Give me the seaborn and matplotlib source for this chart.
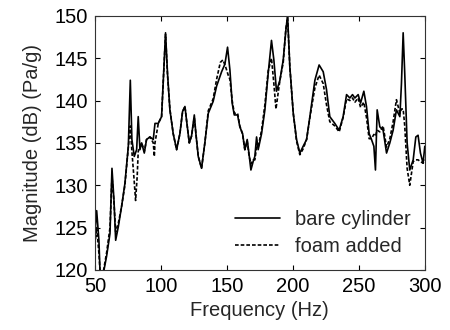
import matplotlib
matplotlib.use("Agg")
import matplotlib.pyplot as plt
import seaborn as sns
import pandas as pd

bare_freq = [50, 51.3, 53, 53.8, 56, 58.8, 61.4, 62.9, 64.4, 65.7, 67.7, 70.2, 72.7, 75.3, 76.8, 78, 79.8,
             81.6, 82.8, 84.1, 85.4, 87.4, 89.1, 91.7, 94.2, 95.5, 98, 100.5, 102.3, 103.5, 105, 106.8,
             109.3, 111.9, 114.4, 116.4, 118.2, 119.4, 121.5, 123.2, 125.3, 126.5, 128.3, 130.8, 133.3,
             135.9, 139.6, 142.2, 146, 148.5, 150.5, 152.3, 154, 155.6, 158.1, 159.8, 161.9, 163.6, 165.4,
             166.7, 168.2, 169.9, 171.2, 172.5, 173.7, 176.3, 178.8, 181.3, 183.8, 185.6, 187.6, 190.2,
             192.7, 194.7, 196, 197.7, 200.3, 202.8, 205.3, 207.8, 210.4, 212.9, 216.7, 219.9, 223, 225.5,
             228, 231.8, 235.1, 238.1, 240.7, 243.2, 245.2, 247, 249.5, 251.3, 253.8, 255.8, 257.8, 259.6,
             261.4, 262.6, 263.9, 265.9, 268.4, 271, 273.5, 276, 278.5, 281.1, 282.3, 283.6, 284.8, 286.6,
             288.6, 291.2, 293.2, 294.9, 296.7, 298.7, 300]
bare_db = [124.3, 127, 123.5, 120, 119.3, 121.6, 124.3, 132, 128.3, 123.5, 125.1, 127.5, 130.2, 134.6, 142.4,
           135.4, 133.4, 134.2, 138.1, 134.2, 135, 133.8, 135.4, 135.7, 135.4, 137.3, 137.3, 138.1, 144, 148,
           143.2, 138.9, 136.1, 134.2, 136.1, 138.7, 139.3, 137.7, 135, 135.8, 138.3, 136.1, 133.4, 132, 135,
           138.5, 139.9, 141.7, 143.4, 144.3, 146.3, 143.6, 139.7, 138.3, 138.3, 136.9, 136.1, 134.2, 135.4,
           133.8, 131.8, 132.8, 133.4, 135.7, 134.2, 136.1, 138.9, 143.2, 147.1, 144.8, 141.1, 142.4, 144.8,
           148.3, 150, 144, 138.5, 135.4, 133.8, 134.6, 135.4, 138.1, 142.4, 144.2, 143.4, 141.3, 138.1,
           137.3, 136.5, 138.1, 140.7, 140.3, 140.7, 140.3, 140.7, 139.7, 141.1, 139.3, 136.1, 135.4, 134.6,
           131.8, 138.9, 136.9, 136.5, 133.8, 135, 136.5, 138.9, 138.1, 142, 148, 143.2, 135, 131.8, 133,
           135.7, 135.9, 133.8, 132.6, 134.6]

foam_freq = [50, 51.3, 53, 53.8, 56, 58.8, 61.4, 62.9, 64.4, 65.7, 67.7, 70.2, 72.7, 75.3, 76.8, 78, 79.5,
             80.8, 82, 82.8, 84.1, 85.4, 87.4, 89.1, 91.7, 94.2, 95, 95.5, 98, 100.5, 102.3, 103.5, 105,
             106.8, 109.3, 111.9, 114.4, 116.4, 118.2, 119.4, 121.5, 123.2, 125.3, 126.5, 128.3, 130.8,
             133.3, 135.9, 139.6, 142.2, 145, 147, 149, 151, 152.3, 154, 155.6, 158.1, 159.8, 161.9, 163.6,
             165.4, 166.7, 168.2, 169.9, 171.2, 172.5, 173.7, 176.3, 178.8, 181.3, 183.8, 185.6, 187.2,
             188.5, 190.2, 192.7, 194.7, 196, 197.7, 200.3, 202.8, 205.3, 207.8, 210.4, 212.9, 216.7,
             219.9, 223, 225.5, 228, 231.8, 235.1, 238.1, 240.7, 243.2, 245.2, 247, 249.5, 251.3, 253.8,
             255.8, 257.8, 259.6, 261.4, 262.6, 263.9, 265.9, 268.4, 271, 273.5, 276, 278.5, 281.1, 282.3,
             283.6, 284.8, 286.6, 288.6, 291.2, 293.2, 294.9, 296.7, 298.7, 300]
foam_db = [123, 125, 122, 120, 119.5, 122, 125, 131, 128, 124.5, 125.5, 127.5, 130, 134.5, 137, 134, 131,
           128.2, 131, 134, 134.5, 135, 134, 135.4, 135.7, 135, 133.4, 135, 137.3, 138.1, 144, 147.8, 143,
           139, 136.1, 134.2, 136.1, 138.7, 139.3, 137.7, 135, 135.8, 138, 136.1, 133.4, 132, 135, 138.8,
           140.2, 142.5, 144.5, 144.8, 144, 143, 142.5, 140, 138.5, 138.5, 137, 136, 134.2, 135.2, 133.6,
           132.5, 133, 133, 134.5, 134.5, 136.5, 139.5, 143.5, 145, 142, 139, 140.5, 142.4, 144.5, 148.5,
           149.8, 144, 138.5, 135.2, 133.6, 134.3, 135.4, 138, 141.5, 143, 142, 139.5, 137.5, 137, 136.3,
           138, 140.2, 140, 140.3, 139.8, 140.3, 139.2, 139.8, 138, 135.5, 135.5, 136, 135.8, 136.5, 136.3,
           137, 134.5, 135.5, 137.5, 140.1, 138.5, 139, 139, 137, 132, 130, 132.8, 133, 133, 132.8, 132.6,
           133]

series_names = ["bare cylinder", "foam added"]

df = pd.concat([
    pd.DataFrame({"freq": bare_freq, "db": bare_db, "series": series_names[0]}),
    pd.DataFrame({"freq": foam_freq, "db": foam_db, "series": series_names[1]}),
], ignore_index=True)

sns.set_style("white")
plt.rcParams["font.family"] = ["Liberation Sans", "DejaVu Sans"]

fig = plt.figure(figsize=(4.5, 3.3), dpi=100)
ax = fig.add_axes([0.211, 0.182, 0.733, 0.770])

sns.lineplot(data=df, x="freq", y="db", style="series", style_order=series_names,
             dashes={series_names[0]: "", series_names[1]: (2.2, 1.2)},
             color="black", linewidth=1.2, sort=False, estimator=None, ax=ax)

fs = 14.5
ax.set_xlim(50, 300)
ax.set_ylim(120, 150)
ax.set_xticks([50, 100, 150, 200, 250, 300])
ax.set_yticks([120, 125, 130, 135, 140, 145, 150])
ax.set_xlabel("Frequency (Hz)", fontsize=fs, labelpad=4)
ax.set_ylabel("Magnitude (dB) (Pa/g)", fontsize=fs, labelpad=9)
ax.tick_params(direction="in", length=3.5, width=0.8, labelsize=fs, top=True, right=True,
               bottom=True, left=True, pad=5, colors="black")
for s in ax.spines.values():
    s.set_color("#333333")
    s.set_linewidth(0.8)

ax.legend(loc="lower right", frameon=False, fontsize=fs, handlelength=2.25,
          handletextpad=0.75, labelspacing=0.4, borderaxespad=0.3,
          bbox_to_anchor=(1.0, 0.0))

fig.savefig("out.png", dpi=100)
